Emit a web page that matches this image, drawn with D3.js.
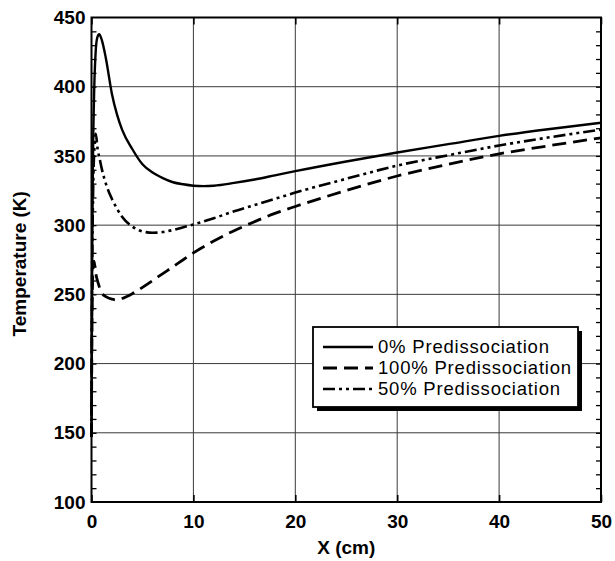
<!DOCTYPE html>
<html>
<head>
<meta charset="utf-8">
<script src="https://cdn.jsdelivr.net/npm/d3@7"></script>
<style>
  html, body { margin: 0; padding: 0; background: #fff; }
  svg { display: block; }
  text { font-family: "Liberation Sans", Arial, Helvetica, sans-serif; }
</style>
</head>
<body>
<svg id="chart" width="615" height="561"></svg>
<script>
// Axial distance (cm) and temperature (K) for each predissociation case
const x0 = [0, 0.05, 0.12, 0.25, 0.4, 0.55, 0.75, 1.0, 1.4, 2.0, 2.5, 3.0, 4.0, 5.0, 6.0, 7.0, 8.0, 9.0, 10, 11, 12, 14, 16, 18, 20, 25, 30, 35, 40, 45, 50];
const t0 = [147, 250, 330, 393, 424, 435, 438, 434, 421, 395, 380, 369, 355, 344, 338, 334, 331, 329.5, 328.5, 328.2, 328.5, 330.5, 333, 336, 339, 346, 352.5, 358.5, 364.5, 369.5, 374];

const x100 = [0, 0.05, 0.15, 0.25, 0.4, 0.7, 1.0, 1.5, 2.0, 2.5, 3.0, 4.0, 5.0, 6.0, 7.0, 8.0, 9.0, 10, 12, 14, 16, 18, 20, 25, 30, 35, 40, 45, 50];
const t100 = [147, 230, 268, 274, 266, 257, 251, 248, 246.5, 246, 247, 250.5, 255, 260, 265, 270, 275, 280, 288.5, 296, 302.5, 308.5, 313.5, 325, 335.5, 344, 351.5, 357.5, 363];

const x50 = [0, 0.05, 0.15, 0.3, 0.42, 0.6, 0.8, 1.0, 1.5, 2.0, 2.5, 3.0, 4.0, 5.0, 6.0, 7.0, 8.0, 9.0, 10, 12, 14, 16, 18, 20, 25, 30, 35, 40, 45, 50];
const t50 = [147, 250, 320, 358, 366, 355, 348, 341, 328, 319, 312, 306, 299, 295.5, 294.5, 295, 296.5, 298.5, 300.5, 305, 310, 314.5, 319, 323.5, 333.5, 343, 350.5, 357.5, 363.5, 369];

const seriesNames = ["0% Predissociation", "100% Predissociation", "50% Predissociation"];
const xTicks = [0, 10, 20, 30, 40, 50];
const yTicks = [100, 150, 200, 250, 300, 350, 400, 450];

const svg = d3.select("#chart");
const plot = { left: 91.5, right: 601, top: 17.5, bottom: 502 };

const x = d3.scaleLinear().domain([0, 50]).range([plot.left, plot.right]);
const y = d3.scaleLinear().domain([100, 450]).range([plot.bottom, plot.top]);

// grid
const grid = svg.append("g").attr("stroke", "#3a3a3a").attr("stroke-width", 1);
grid.selectAll("line.gx").data(xTicks.slice(1, -1)).join("line")
  .attr("x1", d => x(d)).attr("x2", d => x(d))
  .attr("y1", plot.top).attr("y2", plot.bottom);
grid.selectAll("line.gy").data(yTicks.slice(1, -1)).join("line")
  .attr("x1", plot.left).attr("x2", plot.right)
  .attr("y1", d => y(d)).attr("y2", d => y(d));

// inward ticks: minor every 10 K on both vertical sides, major on x
const minorY = d3.range(110, 450, 10);
svg.append("g").attr("transform", `translate(${plot.left},0)`)
  .call(d3.axisRight(y).tickValues(minorY).tickSize(5).tickFormat(""))
  .call(g => g.select(".domain").remove())
  .call(g => g.selectAll("line").attr("stroke", "#000").attr("stroke-width", 1.3));
svg.append("g").attr("transform", `translate(${plot.right},0)`)
  .call(d3.axisLeft(y).tickValues(minorY).tickSize(5).tickFormat(""))
  .call(g => g.select(".domain").remove())
  .call(g => g.selectAll("line").attr("stroke", "#000").attr("stroke-width", 1.3));
svg.append("g").attr("transform", `translate(0,${plot.bottom})`)
  .call(d3.axisTop(x).tickValues(xTicks).tickSize(7).tickFormat(""))
  .call(g => g.select(".domain").remove())
  .call(g => g.selectAll("line").attr("stroke", "#000").attr("stroke-width", 1.6));
svg.append("g").attr("transform", `translate(0,${plot.top})`)
  .call(d3.axisBottom(x).tickValues(xTicks).tickSize(7).tickFormat(""))
  .call(g => g.select(".domain").remove())
  .call(g => g.selectAll("line").attr("stroke", "#000").attr("stroke-width", 1.6));

// tick labels
svg.append("g").attr("transform", `translate(0,${plot.bottom})`)
  .call(d3.axisBottom(x).tickValues(xTicks).tickSize(0).tickPadding(13).tickFormat(d3.format("d")))
  .call(g => g.select(".domain").remove())
  .call(g => g.selectAll("text").attr("font-size", 19).attr("font-weight", "bold").attr("fill", "#000")
    .style("font-family", "'Liberation Sans', Arial, sans-serif"));
svg.append("g").attr("transform", `translate(${plot.left},0)`)
  .call(d3.axisLeft(y).tickValues(yTicks).tickSize(0).tickPadding(6).tickFormat(d3.format("d")))
  .call(g => g.select(".domain").remove())
  .call(g => g.selectAll("text").attr("font-size", 19).attr("font-weight", "bold").attr("fill", "#000")
    .style("font-family", "'Liberation Sans', Arial, sans-serif"));

// axis titles
svg.append("text").attr("x", (plot.left + plot.right) / 2).attr("y", 554)
  .attr("text-anchor", "middle").attr("font-size", 19).attr("font-weight", "bold").text("X (cm)");
svg.append("text").attr("transform", `translate(26,${(plot.top + plot.bottom) / 2 + 4}) rotate(-90)`)
  .attr("text-anchor", "middle").attr("font-size", 19).attr("font-weight", "bold").text("Temperature (K)");

// curves
const line = d3.line().x(d => x(d[0])).y(d => y(d[1])).curve(d3.curveMonotoneX);
const styles = [
  { dash: null, w: 2.4 },
  { dash: "14,7", w: 2.8 },
  { dash: "12,4,3,4,3,4", w: 2.6 }
];
const data = [d3.zip(x0, t0), d3.zip(x100, t100), d3.zip(x50, t50)];
const curves = svg.append("g").attr("fill", "none").attr("stroke", "#000");
data.forEach((pts, i) => {
  curves.append("path").attr("d", line(pts))
    .attr("stroke-width", styles[i].w)
    .attr("stroke-dasharray", styles[i].dash)
    .attr("stroke-linejoin", "round");
});

// frame
svg.append("rect").attr("x", plot.left).attr("y", plot.top)
  .attr("width", plot.right - plot.left).attr("height", plot.bottom - plot.top)
  .attr("fill", "none").attr("stroke", "#000").attr("stroke-width", 2);

// legend
const lg = { x: 313, y: 327, w: 265, h: 80 };
svg.append("rect").attr("x", lg.x + 4).attr("y", lg.y + 4).attr("width", lg.w).attr("height", lg.h).attr("fill", "#000");
svg.append("rect").attr("x", lg.x).attr("y", lg.y).attr("width", lg.w).attr("height", lg.h)
  .attr("fill", "#fff").attr("stroke", "#000").attr("stroke-width", 1.8);
const rows = svg.append("g");
seriesNames.forEach((name, i) => {
  const cy = lg.y + 20 + i * 21;
  rows.append("line").attr("x1", lg.x + 10).attr("x2", lg.x + 60)
    .attr("y1", cy).attr("y2", cy).attr("stroke", "#000")
    .attr("stroke-width", styles[i].w).attr("stroke-dasharray", styles[i].dash);
  rows.append("text").attr("x", lg.x + 65).attr("y", cy + 6)
    .attr("font-size", 18.5).attr("letter-spacing", 0.8).text(name);
});
</script>
</body>
</html>
